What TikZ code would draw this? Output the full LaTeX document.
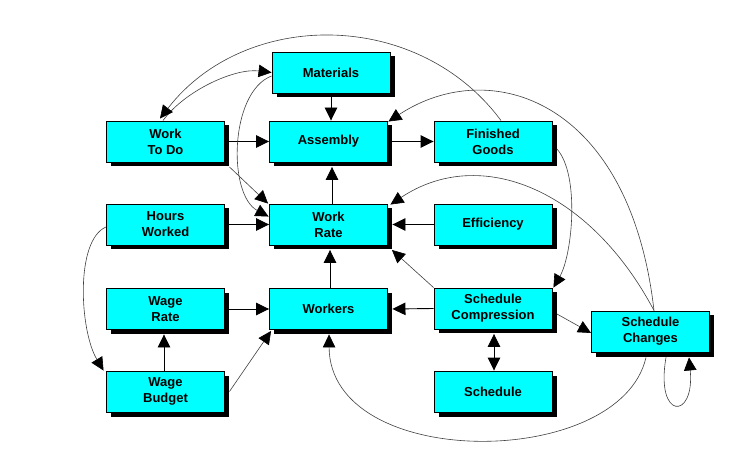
\documentclass[tikz,border=0pt]{standalone}
\usepackage{fontspec}
\setmainfont{Liberation Sans}
\usetikzlibrary{arrows.meta,shadows}
\definecolor{boxcyan}{HTML}{00FFFF}
\tikzset{
  box/.style={draw=black, line width=0.9pt, fill=boxcyan, minimum width=118pt, minimum height=41pt,
    inner sep=0pt, align=center, font=\fontsize{13}{16}\selectfont\bfseries,
    general shadow={fill=black, shadow xshift=4.5pt, shadow yshift=-4.5pt}},
  tip/.style={-{Triangle[length=13pt,width=12.5pt,color=black]}},
  link/.style={tip, draw=black, line width=0.9pt},
  thin/.style={tip, draw=black!75, line width=0.6pt},
}
\begin{document}
\begin{tikzpicture}[x=1pt,y=1pt]
\useasboundingbox (0,0) rectangle (739,-462);
% nodes
\node[box] (mat) at (331,-72.5) {Materials};
\node[box] (wtd) at (165.5,-141.5) {Work\\To Do};
\node[box] (asm) at (328.5,-141.5) {Assembly};
\node[box] (fg) at (493,-141.5) {Finished\\Goods};
\node[box] (hw) at (165.5,-224.5) {Hours\\Worked};
\node[box] (wrate) at (328.5,-224.5) {Work\\Rate};
\node[box] (eff) at (493,-224.5) {Efficiency};
\node[box] (wr) at (165.5,-309) {Wage\\Rate};
\node[box] (wk) at (328.5,-309) {Workers};
\node[box] (sc) at (493,-308.5) {Schedule\\Compression};
\node[box] (sch) at (650.5,-331.5) {Schedule\\Changes};
\node[box] (wb) at (165.5,-391.5) {Wage\\Budget};
\node[box] (sched) at (493,-391.5) {Schedule};
% straight links
\draw[link] (mat.south) -- (mat.south |- asm.north);
\draw[link] (wtd.east) -- (asm.west);
\draw[link] (asm.east) -- (fg.west);
\draw[link] ([xshift=3.5pt]wrate.north) -- ([xshift=3.5pt,yshift=-4.5pt]asm.south);
\draw[link] (hw.east) -- (wrate.west);
\draw[link] (eff.west) -- ([xshift=4.5pt]wrate.east);
\draw[link] ([xshift=1.5pt]wk.north) -- ([xshift=1.5pt,yshift=-4.5pt]wrate.south);
\draw[link] (wr.east) -- (wk.west);
\draw[link] ([xshift=-1.5pt]wb.north) -- ([xshift=-1.5pt,yshift=-4.5pt]wr.south);
\draw[link] (sc.west) -- ([xshift=4.5pt]wk.east);
\draw[link,{Triangle[length=13pt,width=12.5pt]}-{Triangle[length=13pt,width=12.5pt]}] ([xshift=1pt,yshift=-4.5pt]sc.south) -- ([xshift=1pt]sched.north);
% thin straight links
\draw[thin] ([xshift=4.5pt]wb.east) -- ([xshift=2pt,yshift=-1pt]wk.south west);
\draw[thin] (sc.north west) -- ([shift={(4pt,-4.5pt)}]wrate.south east);
\draw[thin] ([shift={(4.5pt,-4.5pt)}]wtd.south east) -- ([xshift=-1pt]wrate.north west);
\draw[thin] ([shift={(4.5pt,-5.5pt)}]sc.east) -- ([yshift=-1.5pt]sch.west);
% curves
\draw[thin] ([yshift=-3.5pt]mat.west) .. controls +(-42,-16) and +(-41,22) .. ([xshift=-0.5pt,yshift=-13pt]wrate.north west);
\draw[thin] ([xshift=-2.5pt]wtd.north) .. controls +(22,30) and +(-37,4.5) .. (mat.west);
\draw[thin] ([xshift=8pt]fg.north) .. controls +(-83,112) and +(85,110) .. ([xshift=-5.5pt,yshift=2pt]wtd.north);
\draw[thin] ([xshift=3.5pt]sch.north) .. controls +(-24,211) and +(102,67) .. ([xshift=0.5pt,yshift=-1pt]asm.north east);
\draw[thin] ([xshift=3.5pt]sch.north) .. controls +(-64,121) and +(90,60) .. ([xshift=2.5pt,yshift=-1pt]wrate.north east);
\draw[thin] ([shift={(4.5pt,-7.5pt)}]fg.east) .. controls +(23,-26) and +(19,33) .. ([xshift=1pt]sc.north east);
\draw[thin] ([shift={(-4.5pt,-5pt)}]sch.south) .. controls +(-26,-113) and +(1,-137) .. ([shift={(0.5pt,-4.5pt)}]wk.south);
\draw[thin] ([shift={(15.5pt,-5pt)}]sch.south) .. controls +(-11,-63) and +(6,-63) .. ([shift={(38.5pt,-5pt)}]sch.south);
\draw[thin] ([yshift=-2.5pt]hw.west) .. controls +(-31,-13) and +(-24,40) .. ([xshift=-2.5pt]wb.north west);
\end{tikzpicture}
\end{document}
